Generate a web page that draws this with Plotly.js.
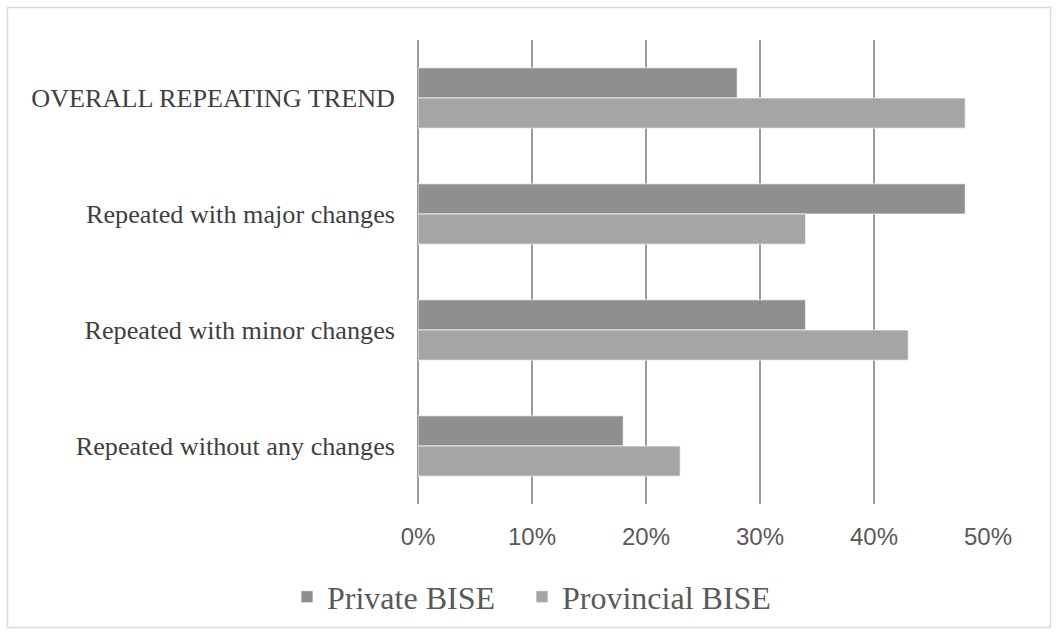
<!DOCTYPE html>
<html>
<head>
<meta charset="utf-8">
<script src="https://cdn.plot.ly/plotly-3.0.1.min.js"></script>
<style>
  html, body { margin: 0; padding: 0; background: #ffffff; }
  #chart { width: 1058px; height: 635px; }
</style>
</head>
<body>
<div id="chart"></div>
<script>
// Categories, top to bottom
const categories = [
  "OVERALL REPEATING TREND",
  "Repeated with major changes",
  "Repeated with minor changes",
  "Repeated without any changes"
];
const privateBISE = [0.28, 0.48, 0.34, 0.18];
const provincialBISE = [0.48, 0.34, 0.43, 0.23];
const seriesNames = ["Private BISE", "Provincial BISE"];
const tickVals = [0, 0.1, 0.2, 0.3, 0.4, 0.5];
const tickText = ["0%", "10%", "20%", "30%", "40%", "50%"];

const traces = [
  {
    type: "bar", orientation: "h", legend: "legend",
    name: seriesNames[0], y: categories, x: privateBISE,
    marker: { color: "#8f8f8f", line: { color: "rgba(255,255,255,0.7)", width: 1 } },
    hoverinfo: "x+y"
  },
  {
    type: "bar", orientation: "h", legend: "legend2",
    name: seriesNames[1], y: categories, x: provincialBISE,
    marker: { color: "#a5a5a5", line: { color: "rgba(255,255,255,0.7)", width: 1 } },
    hoverinfo: "x+y"
  }
];

const L = 418, R = 988, T = 40, B = 504;
const px2x = p => (p - L) / (R - L);
const py2y = p => (B - p) / (B - T);

const legendFont = { family: "Liberation Serif, Times New Roman, serif", size: 32, color: "#595959" };

const layout = {
  width: 1058, height: 635,
  margin: { l: L, r: 1058 - R, t: T, b: 635 - B, pad: 0 },
  paper_bgcolor: "#ffffff", plot_bgcolor: "#ffffff",
  barmode: "group", bargap: 0.48, bargroupgap: 0,
  showlegend: true,
  legend: {
    orientation: "h", xref: "container", yref: "container",
    x: 287 / 1058, xanchor: "left", y: 0.06, yanchor: "middle",
    font: legendFont, itemwidth: 30
  },
  legend2: {
    orientation: "h", xref: "container", yref: "container",
    x: 522 / 1058, xanchor: "left", y: 0.06, yanchor: "middle",
    font: legendFont, itemwidth: 30
  },
  xaxis: {
    range: [0, 0.5], tickvals: tickVals, ticktext: tickText,
    showgrid: true, gridcolor: "#9a9a9a", gridwidth: 2,
    zeroline: true, zerolinecolor: "#9a9a9a", zerolinewidth: 2,
    showline: false, ticks: "",
    tickfont: { family: "Liberation Sans, Arial, sans-serif", size: 24, color: "#595959" },
    ticklabelstandoff: 16, fixedrange: true
  },
  yaxis: {
    type: "category", autorange: "reversed",
    showgrid: false, zeroline: false, showline: false, ticks: "",
    tickfont: { family: "Liberation Serif, Times New Roman, serif", size: 26.2, color: "#404040" },
    ticklabelstandoff: 22, fixedrange: true
  },
  shapes: [{
    type: "rect", xref: "paper", yref: "paper", layer: "below",
    x0: px2x(7.5), x1: px2x(1050.5), y0: py2y(627.5), y1: py2y(7.5),
    line: { color: "#d9d9d9", width: 1.5 }, fillcolor: "rgba(0,0,0,0)"
  }]
};

Plotly.newPlot("chart", traces, layout, { displayModeBar: false, staticPlot: true });
</script>
</body>
</html>
